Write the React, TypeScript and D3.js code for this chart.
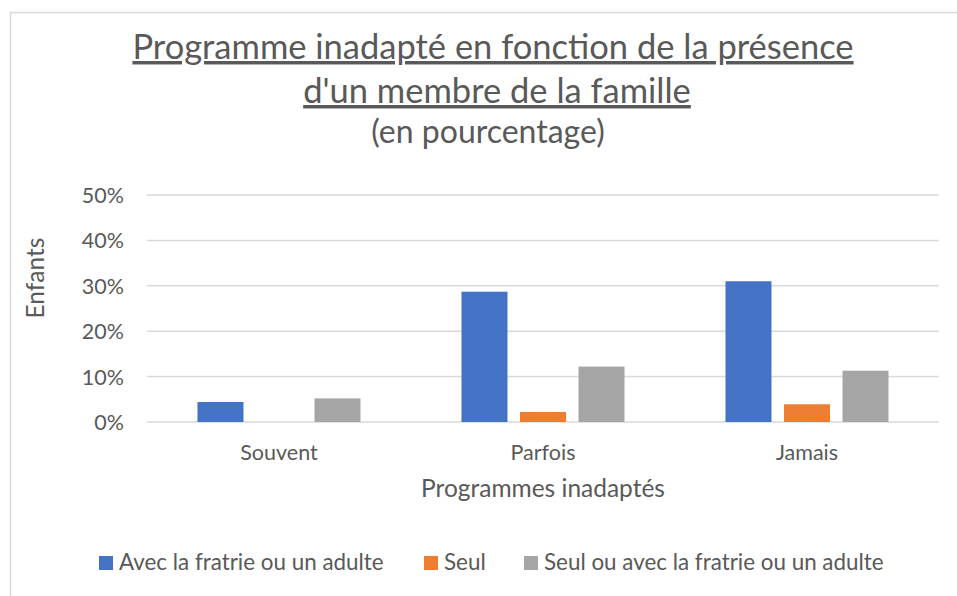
import React from "react";
import * as d3 from "d3";

const categories = ["Souvent", "Parfois", "Jamais"];
const seriesNames = [
  "Avec la fratrie ou un adulte",
  "Seul",
  "Seul ou avec la fratrie ou un adulte",
];
const avecFratrie = [0.044, 0.287, 0.31];
const seul = [0.0, 0.022, 0.039];
const seulOuAvec = [0.052, 0.122, 0.113];
const colors = ["#4472C4", "#ED7D31", "#A5A5A5"];
const yTicks = [0, 0.1, 0.2, 0.3, 0.4, 0.5];
const titleLines = [
  "Programme inadapté en fonction de la présence",
  "d'un membre de la famille",
];
const subtitle = "(en pourcentage)";
const xAxisTitle = "Programmes inadaptés";
const yAxisTitle = "Enfants";

const W = 957;
const H = 596;
const FONT = "Lato, 'Open Sans', sans-serif";
const TXT = "#595959";

export default function App() {
  const seriesValues = [avecFratrie, seul, seulOuAvec];
  const plotLeft = 147;
  const plotRight = 939;
  const y = d3.scaleLinear().domain([0, 0.5]).range([422, 195]);
  const x0 = d3.scaleBand<string>().domain(categories).range([plotLeft, plotRight]).padding(0);
  const x1 = d3
    .scaleBand<string>()
    .domain(seriesNames)
    .range([0, x0.bandwidth()])
    .paddingInner(0.214)
    .paddingOuter(0.863);
  const fmt = d3.format(".0%");

  const legendX = [99, 424, 524];

  return (
    <svg
      width={W}
      height={H}
      style={{ position: "absolute", left: 0, top: 0, background: "#fff" }}
      fontFamily={FONT}
    >
      <rect x={10.5} y={12.5} width={980} height={620} fill="#fff" stroke="#d9d9d9" strokeWidth={1.5} />
      {/* Title */}
      <text x={493} y={59} textAnchor="middle" fontSize={34.5} fill={TXT} style={{ textDecoration: "underline" }}>
        {titleLines[0]}
      </text>
      <text x={497} y={103} textAnchor="middle" fontSize={34.5} fill={TXT} style={{ textDecoration: "underline" }}>
        {titleLines[1]}
      </text>
      <text x={488} y={143} textAnchor="middle" fontSize={32} fill={TXT}>
        {subtitle}
      </text>

      {/* gridlines */}
      {yTicks.map((t) => (
        <line key={t} x1={plotLeft} x2={plotRight} y1={y(t)} y2={y(t)} stroke="#d9d9d9" strokeWidth={1.5} />
      ))}
      {yTicks.map((t) => (
        <text key={"l" + t} x={124} y={y(t) + 8} textAnchor="end" fontSize={21.5} fill={TXT}>
          {fmt(t)}
        </text>
      ))}

      {/* bars */}
      {categories.map((c, ci) => (
        <g key={c}>
          {seriesNames.map((s, si) => {
            const v = seriesValues[si][ci];
            const top = y(v);
            return (
              <rect
                key={s}
                x={(x0(c) as number) + (x1(s) as number)}
                y={top}
                width={x1.bandwidth()}
                height={y(0) - top}
                fill={colors[si]}
              />
            );
          })}
        </g>
      ))}

      {/* category labels */}
      {categories.map((c) => (
        <text key={c} x={(x0(c) as number) + x0.bandwidth() / 2} y={460} textAnchor="middle" fontSize={21.5} fill={TXT}>
          {c}
        </text>
      ))}

      <text x={(plotLeft + plotRight) / 2} y={497} textAnchor="middle" fontSize={24.5} fill={TXT}>
        {xAxisTitle}
      </text>
      <text
        transform={`translate(44,278) rotate(-90)`}
        textAnchor="middle"
        fontSize={24.5}
        fill={TXT}
      >
        {yAxisTitle}
      </text>

      {/* legend */}
      {seriesNames.map((s, i) => (
        <g key={s}>
          <rect x={legendX[i]} y={556} width={14} height={14} fill={colors[i]} />
          <text x={legendX[i] + 20} y={570} fontSize={22.4} fill={TXT}>
            {s}
          </text>
        </g>
      ))}
    </svg>
  );
}
